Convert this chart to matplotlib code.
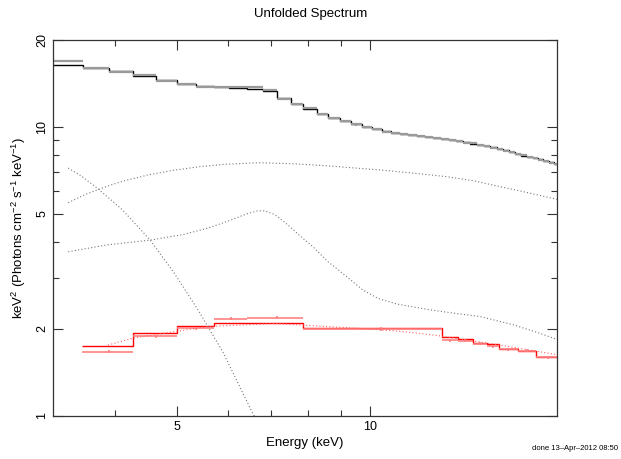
import numpy as np
import matplotlib.pyplot as plt

plt.rcParams['font.family'] = ['Liberation Sans', 'DejaVu Sans']
plt.rcParams['mathtext.fontset'] = 'custom'
plt.rcParams['mathtext.rm'] = 'Liberation Sans'

#### data (keV, keV^2 photons cm^-2 s^-1 keV^-1)

# black spectrum: bin edges, model steps, data points
black_edges = [3.20, 3.57, 3.92, 4.27, 4.64, 5.00, 5.36, 5.71, 6.03, 6.43, 6.81,
               7.16, 7.53, 7.87, 8.27, 8.60, 8.98, 9.34, 9.72, 10.08, 10.44, 10.79,
               11.14, 11.47, 11.83, 12.19, 12.55, 12.91, 13.27, 13.63, 13.99, 14.35,
               14.71, 15.07, 15.43, 15.79, 16.15, 16.51, 16.87, 17.23, 17.59, 17.95,
               18.31, 18.67, 19.03, 19.39, 19.75]
black_model = [16.45, 16.0, 15.56, 15.01, 14.49, 14.11, 13.86, 13.72, 13.64, 13.56,
               13.32, 12.60, 12.01, 11.51, 11.09, 10.74, 10.45, 10.22, 9.97, 9.84,
               9.65, 9.51, 9.44, 9.38, 9.30, 9.22, 9.15, 9.07, 9.00, 8.93, 8.85,
               8.76, 8.66, 8.58, 8.50, 8.40, 8.30, 8.18, 8.07, 7.96, 7.87, 7.79,
               7.72, 7.64, 7.55, 7.45]
black_data = [16.9, 16.0, 15.5, 15.1, 14.4, 14.1, 13.8, 13.8, 13.75, 13.7,
              13.4, 12.5, 12.0, 11.6, 11.1, 10.7, 10.5, 10.2, 9.97, 9.85,
              9.63, 9.52, 9.43, 9.40, 9.28, 9.24, 9.13, 9.08, 8.98, 8.94, 8.83,
              8.78, 8.64, 8.59, 8.48, 8.41, 8.28, 8.19, 8.05, 7.97, 7.85, 7.80,
              7.70, 7.65, 7.53, 7.46]

# red spectrum
red_edges = [3.55, 4.27, 5.00, 5.71, 6.43, 7.87, 12.96, 13.72, 14.48, 15.23,
             15.90, 17.02, 18.16, 19.75]
red_model = [1.747, 1.93, 2.048, 2.093, 2.093, 2.011, 1.88, 1.84, 1.79, 1.77,
             1.71, 1.68, 1.60]
red_data = [1.67, 1.89, 2.01, 2.17, 2.19, 2.00, 1.83, 1.82, 1.78, 1.74,
            1.70, 1.68, 1.60]

# model components (dotted)
comp1_e = [3.38, 3.55, 3.75, 4.10, 4.54, 4.95, 5.39, 5.90, 6.55, 6.75]
comp1_y = [7.21, 6.75, 6.15, 5.19, 4.06, 3.12, 2.33, 1.66, 1.03, 0.92]
comp2_e = [3.38, 3.60, 3.90, 4.12, 4.50, 4.93, 5.40, 5.90, 6.67, 7.50, 8.50,
           10.37, 11.50, 13.19, 14.50, 15.79, 17.50, 19.6]
comp2_y = [5.47, 5.85, 6.25, 6.50, 6.82, 7.08, 7.28, 7.42, 7.52, 7.47, 7.35,
           7.10, 6.95, 6.73, 6.52, 6.25, 5.95, 5.62]
comp3_e = [3.38, 3.89, 4.54, 5.10, 5.57, 6.00, 6.45, 6.67, 6.85, 7.10, 7.30,
           7.50, 7.80, 8.15, 8.60, 9.21, 9.75, 10.30, 11.02, 12.41, 13.50,
           14.85, 16.72, 18.20, 19.6]
comp3_y = [3.70, 3.91, 4.06, 4.24, 4.46, 4.72, 5.02, 5.12, 5.13, 4.98, 4.75,
           4.52, 4.18, 3.85, 3.42, 3.03, 2.73, 2.55, 2.44, 2.33, 2.27,
           2.21, 2.07, 1.95, 1.84]
red_comp_e = [3.90, 4.27, 4.61, 5.59, 7.11, 10.0, 11.26, 12.72, 15.95, 19.6]
red_comp_y = [1.76, 1.86, 1.91, 2.04, 2.09, 2.00, 1.96, 1.90, 1.76, 1.63]


fig = plt.figure(figsize=(6.21, 4.59), dpi=100)
ax = fig.add_axes([0.0853, 0.0937, 0.8116, 0.8192])

# black
be = np.array(black_edges)
bc = 0.5 * (be[:-1] + be[1:])
bw = 0.5 * (be[1:] - be[:-1])
bd = np.array(black_data)
ax.errorbar(bc, bd, xerr=bw, yerr=bd * 0.008, fmt='none',
            ecolor='#9a9a9a', elinewidth=1.6, capsize=0)
ax.stairs(black_model, black_edges, baseline=None, color='black', lw=1.0)

# red
re_ = np.array(red_edges)
rc = 0.5 * (re_[:-1] + re_[1:])
rw = 0.5 * (re_[1:] - re_[:-1])
rd = np.array(red_data)
ax.errorbar(rc, rd, xerr=rw, yerr=rd * 0.012, fmt='none',
            ecolor='#ff8080', elinewidth=1.2, capsize=0)
ax.stairs(red_model, red_edges, baseline=None, color='#ff0000', lw=1.0)

# components
dots = dict(ls=(0, (1, 2)), lw=0.8)
ax.plot(comp1_e, comp1_y, color='#777777', **dots)
ax.plot(comp2_e, comp2_y, color='#777777', **dots)
ax.plot(comp3_e, comp3_y, color='#777777', **dots)
ax.plot(red_comp_e, red_comp_y, color='#ff6060', **dots)

ax.set_xscale('log')
ax.set_yscale('log')
ax.set_xlim(3.2, 19.6)
ax.set_ylim(1, 20)

ax.set_xticks([5, 10])
ax.set_xticklabels(['5', '10'])
ax.set_xticks([4, 6, 7, 8, 9], minor=True)
ax.set_xticklabels([], minor=True)
ax.set_yticks([1, 2, 5, 10, 20])
ax.set_yticklabels(['1', '2', '5', '10', '20'], rotation=90, va='center')
ax.set_yticks([3, 4, 6, 7, 8, 9], minor=True)
ax.set_yticklabels([], minor=True)

ax.tick_params(which='both', direction='in', top=True, right=True,
               labelsize=9, color='#333333')
ax.tick_params(which='major', length=7, width=0.8)
ax.tick_params(which='minor', length=4, width=0.8)
for s in ax.spines.values():
    s.set_color('#333333')
    s.set_linewidth(0.9)

ax.set_xlabel('Energy (keV)', fontsize=9.5, labelpad=3)
ax.set_ylabel(r'keV$^{2}$ (Photons cm$^{-2}$ s$^{-1}$ keV$^{-1}$)',
              fontsize=9.5, labelpad=6)

fig.text(0.5, 0.969, 'Unfolded Spectrum', ha='center', va='center', fontsize=9.5)
fig.text(0.995, 0.022, 'done 13\u2013Apr\u20132012 08:50', ha='right',
         va='center', fontsize=5.5)

fig.savefig('out.png', dpi=100)
